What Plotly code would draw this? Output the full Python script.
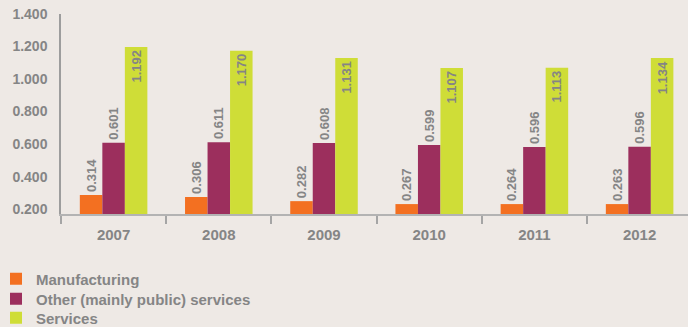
import plotly.graph_objects as go

years = ["2007", "2008", "2009", "2010", "2011", "2012"]
# bar heights as drawn in the picture
manufacturing = [0.287, 0.275, 0.249, 0.231, 0.231, 0.231]
other_public = [0.608, 0.612, 0.606, 0.594, 0.582, 0.583]
services = [1.197, 1.174, 1.129, 1.068, 1.070, 1.129]
# printed data labels
manufacturing_lbl = ["0.314", "0.306", "0.282", "0.267", "0.264", "0.263"]
other_public_lbl = ["0.601", "0.611", "0.608", "0.599", "0.596", "0.596"]
services_lbl = ["1.192", "1.170", "1.131", "1.107", "1.113", "1.134"]
y_ticks = [0.2, 0.4, 0.6, 0.8, 1.0, 1.2, 1.4]
y_ticklabels = ["0.200", "0.400", "0.600", "0.800", "1.000", "1.200", "1.400"]

BG = "#eee9e5"
GRAY = "#858585"
FONT = "Liberation Sans"
W, H = 688, 327
ML = 61
PW = W - ML

fig = go.Figure()
series = [
    ("Manufacturing", manufacturing, manufacturing_lbl, "#f37021", "outside", "legend"),
    ("Other (mainly public) services", other_public, other_public_lbl, "#9c2f5d", "outside", "legend2"),
    ("Services", services, services_lbl, "#cfdd37", "inside", "legend3"),
]
for name, vals, lbls, col, pos, lg in series:
    fig.add_trace(go.Bar(
        x=years, y=vals, name=name, marker=dict(color=col, line=dict(width=0)),
        text=lbls, textposition=pos, textangle=-90, insidetextanchor="end",
        constraintext="none", cliponaxis=False, legend=lg,
        textfont=dict(family=FONT, size=13, color=GRAY, weight="bold"),
    ))

yr = [0.17, 1.4]


def leg(ypx):
    return dict(
        xref="paper", yref="container", x=(-4 - ML) / PW, y=1 - ypx / H,
        xanchor="left", yanchor="middle", bgcolor="rgba(0,0,0,0)",
        font=dict(family=FONT, size=15, color=GRAY, weight="bold"),
    )


fig.update_layout(
    width=W, height=H,
    margin=dict(l=ML, r=0, t=14, b=113, autoexpand=False),
    paper_bgcolor=BG, plot_bgcolor=BG,
    barmode="group", bargap=0.358, bargroupgap=0,
    font=dict(family=FONT, size=14, color=GRAY, weight="bold"),
    xaxis=dict(
        type="category", range=[-0.5, 5.46], showgrid=False,
        showline=True, linecolor="#b3b3b3", linewidth=2,
        ticks="outside", tickson="boundaries", ticklen=8, tickcolor="#a5a5a5", tickwidth=1.5,
        ticklabelstandoff=6,
        tickfont=dict(family=FONT, size=15, color=GRAY, weight="bold"),
    ),
    yaxis=dict(
        range=yr, tickvals=y_ticks, ticktext=y_ticklabels, showgrid=False, zeroline=False,
        showline=True, linecolor="#9d9d9d", linewidth=1.5, ticks="",
        ticklabelstandoff=9,
        tickfont=dict(family=FONT, size=14, color=GRAY, weight="bold"),
    ),
    yaxis2=dict(
        range=yr, overlaying="y", anchor="x", tickvals=[0.6, 1.0, 1.4],
        showticklabels=False, showgrid=True, gridcolor="#b4b4b4", gridwidth=2, zeroline=False,
    ),
    yaxis3=dict(
        range=yr, overlaying="y", anchor="x", tickvals=[0.4, 0.8, 1.2],
        showticklabels=False, showgrid=True, gridcolor="#8e8e8e", gridwidth=1, zeroline=False,
    ),
    legend=leg(279),
    legend2=leg(299),
    legend3=leg(318),
    showlegend=True,
)
fig.write_html("out.html")
